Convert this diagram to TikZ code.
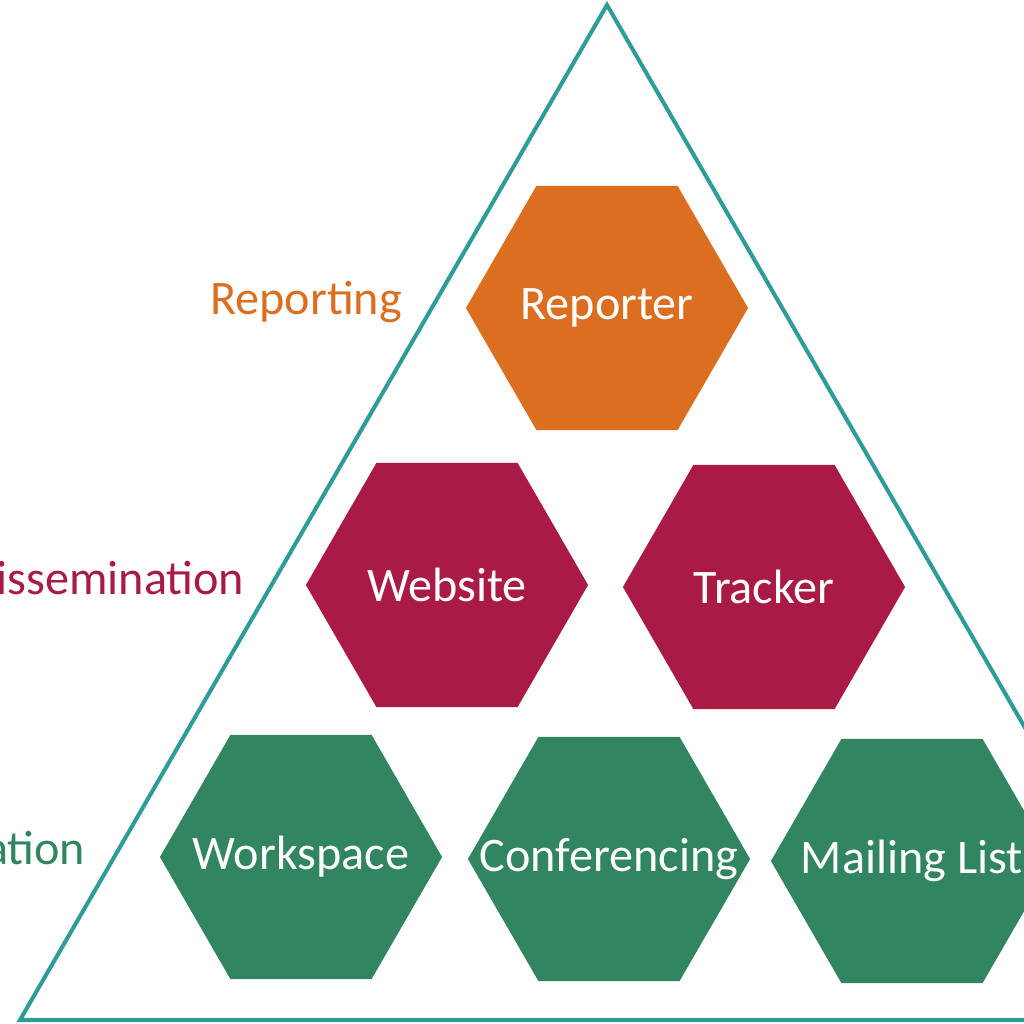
\documentclass[tikz,border=0pt]{standalone}
\usepackage{fontspec}
\setmainfont{Carlito}
\usepackage{xcolor}
\usetikzlibrary{shapes.geometric}

\definecolor{tealline}{HTML}{2E9C98}
\definecolor{reportorange}{HTML}{DC6E20}
\definecolor{dissred}{HTML}{A91A45}
\definecolor{collabgreen}{HTML}{318561}

\begin{document}
\begin{tikzpicture}[x=0.01cm, y=-0.01cm,
        hexa/.style={regular polygon, regular polygon sides=6, minimum size=2.82cm, inner sep=0pt, fill=#1},
        hexatext/.style={text=white, font=\fontsize{13.7}{16}\selectfont},
        level/.style={text=#1, font=\fontsize{13.7}{16}\selectfont}]
        \clip (0,0) rectangle (1024,1024);

        % Draw the triangle
        \draw[tealline, line width=1.15pt, line join=miter] (607,5) coordinate (apex)
            -- (20,1020) coordinate (bl) -- (1194,1020) coordinate (br) -- cycle;

        % Top row
        \node[hexa=reportorange, label={[hexatext]center:Reporter}] (reporter) at (607,308) {};

        % Middle row
        \node[hexa=dissred, label={[hexatext]center:Website}] (website) at (447,585) {};
        \node[hexa=dissred, label={[hexatext]center:Tracker}] (tracker) at (764,587) {};

        % Bottom row
        \node[hexa=collabgreen, label={[hexatext]center:Workspace}] (workspace) at (301,857) {};
        \node[hexa=collabgreen, label={[hexatext]center:Conferencing}] (conferencing) at (609,859) {};
        \node[hexa=collabgreen, label={[hexatext]center:Mailing List}] (mailing) at (912,861) {};

        % Row names
        \node[level=reportorange] (reporting) at (306,302) {Reporting};
        \node[level=dissred, anchor=east, inner sep=0pt] (dissemination) at (245,578) {Dissemination};
        \node[level=collabgreen, anchor=east, inner sep=0pt] (collaboration) at (86,848) {Collaboration};
    \end{tikzpicture}
\end{document}
